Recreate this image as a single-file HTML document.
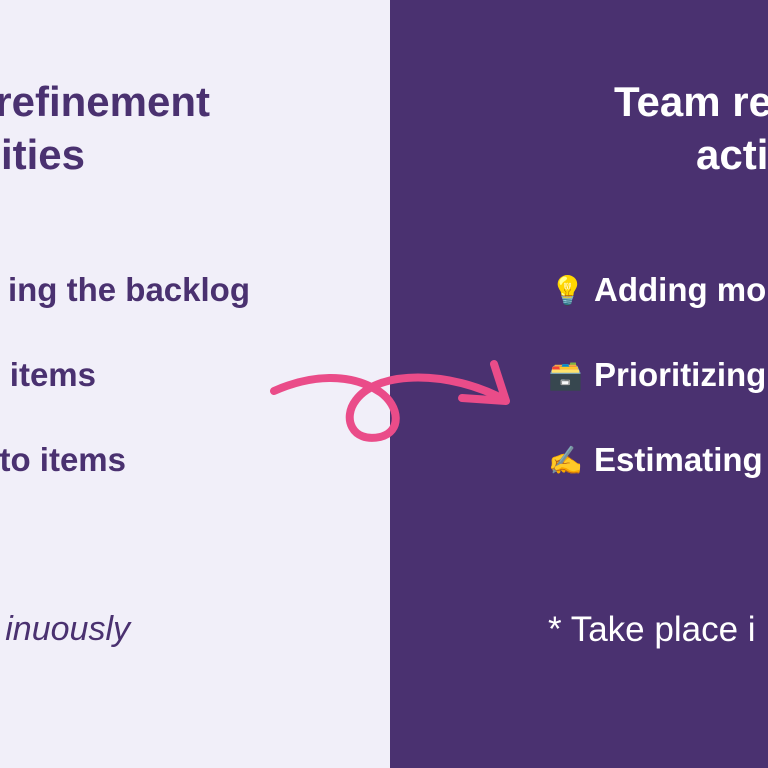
<!DOCTYPE html>
<html><head><meta charset="utf-8"><style>
body{margin:0;width:768px;height:768px;overflow:hidden;position:relative;font-family:"Liberation Sans",sans-serif;}
.l{position:absolute;left:0;top:0;width:390px;height:768px;background:#f1eff9;}
.r{position:absolute;left:390px;top:0;width:378px;height:768px;background:#4a3170;}
.t{position:absolute;white-space:nowrap;line-height:1;}
.lt{color:#4a3170;}
.rt{color:#fff;}
.h{font-weight:bold;font-size:42px;}
.i{font-weight:bold;font-size:33px;}
</style></head><body>
<div class="l"></div><div class="r"></div>
<div class="t lt h" style="right:558px;top:81px">refinement</div>
<div class="t lt h" style="right:683px;top:134px">ities</div>
<div class="t lt i" style="right:518px;top:273px">ing the backlog</div>
<div class="t lt i" style="right:672px;top:358px">items</div>
<div class="t lt i" style="right:642px;top:443px">to items</div>
<div class="t lt" style="right:638px;top:612px;font-size:34px;font-style:italic">inuously</div>
<div class="t rt h" style="left:614px;top:81px">Team re</div>
<div class="t rt h" style="left:696px;top:134px">acti</div>
<div class="t rt i" style="left:550px;top:272px"><span style="font-size:28px">💡</span></div>
<div class="t rt i" style="left:594px;top:273px">Adding mo</div>
<div class="t rt i" style="left:548px;top:357px"><span style="font-size:28px">🗃️</span></div>
<div class="t rt i" style="left:594px;top:358px">Prioritizing</div>
<div class="t rt i" style="left:548px;top:442px"><span style="font-size:28px">✍️</span></div>
<div class="t rt i" style="left:594px;top:443px">Estimating</div>
<div class="t rt" style="left:548px;top:612px;font-size:35px">* Take place i</div>
<svg style="position:absolute;left:0;top:0" width="768" height="768">
<path d="M274,391 C310,375 350,372 380,392 C400,406 402,432 380,437 C352,443 342,418 356,400 C378,370 450,370 505,400" fill="none" stroke="#ea4c89" stroke-width="8" stroke-linecap="round"/>
<path d="M494,364 L506,401 L462,398" fill="none" stroke="#ea4c89" stroke-width="8" stroke-linecap="round" stroke-linejoin="round"/>
</svg>
</body></html>
